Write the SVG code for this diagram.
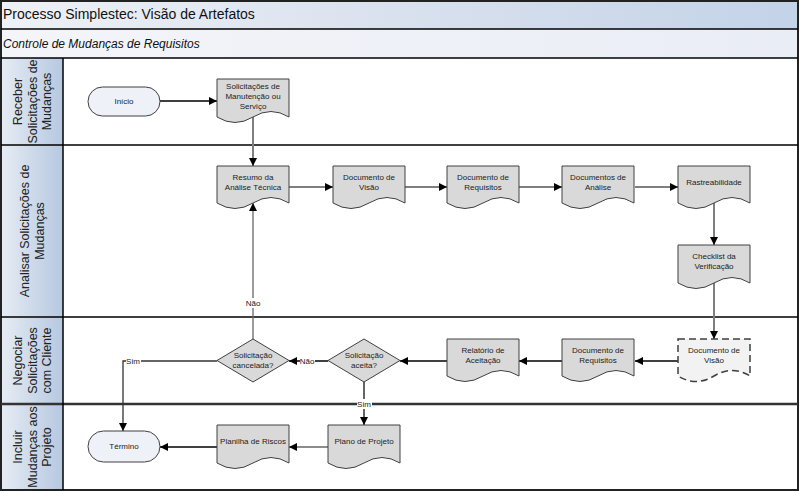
<svg xmlns="http://www.w3.org/2000/svg" width="800" height="491" viewBox="0 0 800 491">
<defs>
<linearGradient id="gTitle" x1="0" y1="0" x2="1" y2="0">
<stop offset="0" stop-color="#eef1f6"/><stop offset="0.5" stop-color="#d9e1ee"/><stop offset="1" stop-color="#c3d3e8"/>
</linearGradient>
<linearGradient id="gSub" x1="0" y1="0" x2="1" y2="0">
<stop offset="0" stop-color="#f4f5f9"/><stop offset="1" stop-color="#e9edf6"/>
</linearGradient>
<linearGradient id="gLane" x1="0" y1="0" x2="1" y2="0">
<stop offset="0" stop-color="#e6ecf4"/><stop offset="0.7" stop-color="#c4d3e6"/><stop offset="1" stop-color="#b6c9e1"/>
</linearGradient>
<marker id="ah" viewBox="0 0 10 10" refX="10" refY="5" markerUnits="userSpaceOnUse" markerWidth="8" markerHeight="8" orient="auto">
<path d="M0,0 L10,5 L0,10 z" fill="#000"/>
</marker>
<style>
.lanehdr{fill:url(#gLane);}
.lanetxt{font-family:"Liberation Sans",Arial,sans-serif;font-size:12.5px;fill:#222;text-anchor:middle;}
.doc{fill:#d9d9d9;stroke:#404040;stroke-width:1;}
.term{fill:#eef1f7;stroke:#404040;stroke-width:1;}
.dia{fill:#d9d9d9;stroke:#404040;stroke-width:1;}
.t{font-family:"Liberation Sans",Arial,sans-serif;font-size:8px;fill:#222;text-anchor:middle;}
.c{fill:none;stroke:#000;stroke-width:1.3;marker-end:url(#ah);}
.cg{fill:none;stroke:#7f7f7f;stroke-width:2;marker-end:url(#ah);}
.lbl{font-family:"Liberation Sans",Arial,sans-serif;font-size:8px;fill:#222;text-anchor:middle;}
</style>
</defs>
<rect x="0" y="0" width="800" height="491" fill="#fff"/>
<!-- header bars -->
<rect x="1" y="1" width="797" height="28" fill="url(#gTitle)"/>
<rect x="1" y="29" width="797" height="29" fill="url(#gSub)"/>
<text x="3" y="19" font-family="Liberation Sans,Arial,sans-serif" font-size="14" fill="#111">Processo Simplestec: Visão de Artefatos</text>
<text x="3" y="48" font-family="Liberation Sans,Arial,sans-serif" font-size="12" font-style="italic" fill="#111">Controle de Mudanças de Requisitos</text>
<!-- lane headers -->
<g id="lane1"><rect class="lanehdr" x="1" y="58" width="62" height="87"/>
<text class="lanetxt" transform="translate(32,101.5) rotate(-90)"><tspan x="0" y="-10">Receber</tspan><tspan x="0" y="4.5">Solicitações de</tspan><tspan x="0" y="19">Mudanças</tspan></text></g>
<g id="lane2"><rect class="lanehdr" x="1" y="145" width="62" height="172"/>
<text class="lanetxt" transform="translate(32,231) rotate(-90)"><tspan x="0" y="-3">Analisar Solicitações de</tspan><tspan x="0" y="11.5">Mudanças</tspan></text></g>
<g id="lane3"><rect class="lanehdr" x="1" y="317" width="62" height="87"/>
<text class="lanetxt" transform="translate(32,360.5) rotate(-90)"><tspan x="0" y="-10">Negociar</tspan><tspan x="0" y="4.5">Solicitações</tspan><tspan x="0" y="19">com Cliente</tspan></text></g>
<g id="lane4"><rect class="lanehdr" x="1" y="404" width="62" height="86"/>
<text class="lanetxt" transform="translate(32,447) rotate(-90)"><tspan x="0" y="-10">Incluir</tspan><tspan x="0" y="4.5">Mudanças aos</tspan><tspan x="0" y="19">Projeto</tspan></text></g>
<!-- grid lines -->
<g fill="none" stroke="#000" stroke-width="1.5">
<rect x="1" y="1" width="797" height="489" stroke="#222" stroke-width="2"/>
<line x1="1" y1="29" x2="798" y2="29"/>
<line x1="1" y1="58" x2="798" y2="58"/>
<line x1="1" y1="145" x2="798" y2="145"/>
<line x1="1" y1="317" x2="798" y2="317"/>
<line x1="1" y1="404" x2="798" y2="404" stroke="#333" stroke-width="2.5"/>
<line x1="63" y1="58" x2="63" y2="490"/>
</g>
<!-- connectors -->
<g id="connectors">
<path class="c" d="M160,101 H217"/>
<path class="cg" d="M253,117 V166"/>
<path class="cg" d="M289,187 H333"/>
<path class="cg" d="M405,187 H447"/>
<path class="cg" d="M519,187 H562"/>
<path class="cg" d="M635,187 H678"/>
<path class="cg" d="M714,203 V245"/>
<path class="cg" d="M714,283 V339"/>
<path class="c" d="M678,361 H635"/>
<path class="c" d="M562,361 H519"/>
<path class="c" d="M447,361 H400"/>
<path class="c" d="M328,361 H289"/>
<path class="c" d="M253,339 V203" stroke="#666" style="stroke:#666"/>
<path class="c" d="M217,361 H123 V431" style="stroke:#333"/>
<path class="c" d="M364,382 V425" style="stroke:#666;stroke-width:2"/>
<path class="c" d="M328,447 H289" style="stroke:#666;stroke-width:1.5"/>
<path class="c" d="M217,447 H160"/>
<rect x="300" y="356" width="15" height="10" fill="#fff"/>
<text class="lbl" x="307" y="364">Não</text>
<rect x="245" y="298" width="16" height="10" fill="#fff"/>
<text class="lbl" x="253" y="306">Não</text>
<rect x="126" y="356" width="15" height="10" fill="#fff"/>
<text class="lbl" x="133" y="364">Sim</text>
<rect x="357" y="399" width="15" height="10" fill="#fff"/>
<text class="lbl" x="364" y="407">Sim</text>
</g>
<!-- nodes -->
<g id="inicio"><rect class="term" x="88" y="87" width="72" height="29" rx="14.5"/><text class="t" x="124" y="104">Início</text></g>
<g id="solicitacoes"><path class="doc" d="M217,79 H289 V117 Q271,106 253,117 Q235,128 217,117 Z"/>
<text class="t"><tspan x="253" y="89">Solicitações de</tspan><tspan x="253" y="99">Manutenção ou</tspan><tspan x="253" y="109">Serviço</tspan></text></g>
<g id="resumo"><path class="doc" d="M217,166 H289 V203 Q271,192 253,203 Q235,214 217,203 Z"/>
<text class="t"><tspan x="253" y="180">Resumo da</tspan><tspan x="253" y="190">Análise Técnica</tspan></text></g>
<g id="docvisao"><path class="doc" d="M333,166 H405 V203 Q387,192 369,203 Q351,214 333,203 Z"/>
<text class="t"><tspan x="369" y="180">Documento de</tspan><tspan x="369" y="190">Visão</tspan></text></g>
<g id="docreq"><path class="doc" d="M447,166 H519 V203 Q501,192 483,203 Q465,214 447,203 Z"/>
<text class="t"><tspan x="483" y="180">Documento de</tspan><tspan x="483" y="190">Requisitos</tspan></text></g>
<g id="docanalise"><path class="doc" d="M562,166 H634 V203 Q616,192 598,203 Q580,214 562,203 Z"/>
<text class="t"><tspan x="598" y="180">Documentos de</tspan><tspan x="598" y="190">Análise</tspan></text></g>
<g id="rastreabilidade"><path class="doc" d="M678,166 H750 V203 Q732,192 714,203 Q696,214 678,203 Z"/>
<text class="t" x="714" y="185">Rastreabilidade</text></g>
<g id="checklist"><path class="doc" d="M678,245 H750 V283 Q732,272 714,283 Q696,294 678,283 Z"/>
<text class="t"><tspan x="714" y="259">Checklist da</tspan><tspan x="714" y="269">Verificação</tspan></text></g>
<g id="docvisao2"><path class="doc" d="M678,339 H750 V376 Q732,365 714,376 Q696,387 678,376 Z" style="fill:#f2f2f2;stroke-dasharray:7,4;stroke-width:1.5"/>
<text class="t"><tspan x="714" y="353">Documento de</tspan><tspan x="714" y="363">Visão</tspan></text></g>
<g id="docreq2"><path class="doc" d="M562,339 H634 V376 Q616,365 598,376 Q580,387 562,376 Z"/>
<text class="t"><tspan x="598" y="353">Documento de</tspan><tspan x="598" y="363">Requisitos</tspan></text></g>
<g id="relatorio"><path class="doc" d="M447,339 H519 V376 Q501,365 483,376 Q465,387 447,376 Z"/>
<text class="t"><tspan x="483" y="353">Relatório de</tspan><tspan x="483" y="363">Aceitação</tspan></text></g>
<g id="aceita"><path class="dia" d="M364,339 L400,360.5 L364,382 L328,360.5 Z"/>
<text class="t"><tspan x="364" y="358">Solicitação</tspan><tspan x="364" y="368">aceita?</tspan></text></g>
<g id="cancelada"><path class="dia" d="M253,339 L289,360.5 L253,382 L217,360.5 Z"/>
<text class="t"><tspan x="253" y="358">Solicitação</tspan><tspan x="253" y="368">cancelada?</tspan></text></g>
<g id="plano"><path class="doc" d="M328,425 H400 V463 Q382,452 364,463 Q346,474 328,463 Z"/>
<text class="t" x="364" y="444">Plano de Projeto</text></g>
<g id="planilha"><path class="doc" d="M217,425 H289 V463 Q271,452 253,463 Q235,474 217,463 Z"/>
<text class="t" x="253" y="444">Planilha de Riscos</text></g>
<g id="termino"><rect class="term" x="88" y="431" width="72" height="31" rx="15.5"/><text class="t" x="124" y="449">Término</text></g>
</svg>
